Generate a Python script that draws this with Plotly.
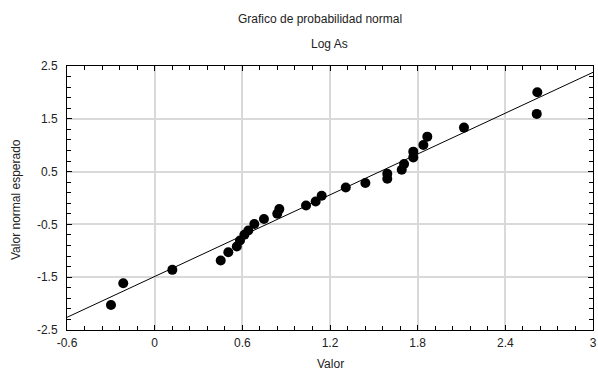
import plotly.graph_objects as go

# Observed values (x) and expected normal values (y)
valor = [-0.299, -0.215, 0.121, 0.452, 0.504, 0.562, 0.584, 0.614, 0.641, 0.682,
         0.748, 0.839, 0.853, 1.036, 1.102, 1.143, 1.308, 1.442, 1.592, 1.592,
         1.691, 1.707, 1.770, 1.770, 1.839, 1.866, 2.117, 2.615, 2.619]
esperado = [-2.026, -1.614, -1.361, -1.185, -1.026, -0.919, -0.805, -0.697, -0.616, -0.494,
            -0.399, -0.299, -0.210, -0.141, -0.065, 0.043, 0.200, 0.284, 0.365, 0.460,
            0.536, 0.644, 0.769, 0.878, 1.005, 1.162, 1.333, 1.593, 2.003]

# Reference line endpoints
line_x = [-0.6, 3.0]
line_y = [-2.26, 2.38]

x_tickvals = [-0.6, 0, 0.6, 1.2, 1.8, 2.4, 3]
x_ticktext = ["-0.6", "0", "0.6", "1.2", "1.8", "2.4", "3"]
y_tickvals = [-2.5, -1.5, -0.5, 0.5, 1.5, 2.5]
y_ticktext = ["-2.5", "-1.5", "-0.5", "0.5", "1.5", "2.5"]

FONT = "Liberation Sans, Arial, sans-serif"
TXT = "#222"

W, H = 598, 376
ML, MR, MT, MB = 67, 5, 66, 46
PW, PH = W - ML - MR, H - MT - MB

fig = go.Figure()
fig.add_trace(go.Scatter(x=line_x, y=line_y, mode="lines",
                         line=dict(color="black", width=1), hoverinfo="skip"))
fig.add_trace(go.Scatter(x=valor, y=esperado, mode="markers",
                         marker=dict(color="black", size=10)))

axis_common = dict(
    showline=True, linecolor="black", linewidth=1, mirror="ticks",
    ticks="inside", ticklen=5, tickcolor="black", tickwidth=1,
    showgrid=True, gridcolor="#d9d9d9", gridwidth=1.5,
    zeroline=False, automargin=False, ticklabeloverflow="allow",
    tickfont=dict(family=FONT, size=12, color=TXT),
)

fig.update_layout(
    width=W, height=H,
    margin=dict(l=ML, r=MR, t=MT, b=MB),
    paper_bgcolor="white", plot_bgcolor="white",
    showlegend=False,
    font=dict(family=FONT, size=12, color=TXT),
    xaxis=dict(range=[-0.6, 3.0], tickmode="array", tickvals=x_tickvals, ticktext=x_ticktext,
               minor=dict(tickmode="linear", tick0=0, dtick=0.12, ticks="inside", ticklen=4,
                          tickcolor="black", showgrid=False),
               ticklabelstandoff=2,
               **axis_common),
    yaxis=dict(range=[-2.5, 2.5], tickmode="array", tickvals=y_tickvals, ticktext=y_ticktext,
               minor=dict(tickmode="linear", tick0=-2.5, dtick=0.2, ticks="inside", ticklen=4,
                          tickcolor="black", showgrid=False),
               ticklabelstandoff=6,
               **axis_common),
)


def px_x(px):
    return (px - ML) / PW


def px_y(py):
    return 1 - (py - MT) / PH


ann_font = dict(family=FONT, size=12, color=TXT)
fig.add_annotation(text="Grafico de probabilidad normal", xref="paper", yref="paper",
                   x=px_x(320), y=px_y(19), showarrow=False, xanchor="center", yanchor="middle",
                   font=ann_font)
fig.add_annotation(text="Log As", xref="paper", yref="paper",
                   x=px_x(329), y=px_y(44), showarrow=False, xanchor="center", yanchor="middle",
                   font=ann_font)
fig.add_annotation(text="Valor", xref="paper", yref="paper",
                   x=px_x(330), y=px_y(364), showarrow=False, xanchor="center", yanchor="middle",
                   font=ann_font)
fig.add_annotation(text="Valor normal esperado", xref="paper", yref="paper",
                   x=px_x(16), y=px_y(200), showarrow=False, xanchor="center", yanchor="middle",
                   textangle=-90, font=ann_font)

fig.write_html("out.html",
               config={"displayModeBar": False},
               post_script="document.body.style.margin='0';document.body.style.padding='0';")
